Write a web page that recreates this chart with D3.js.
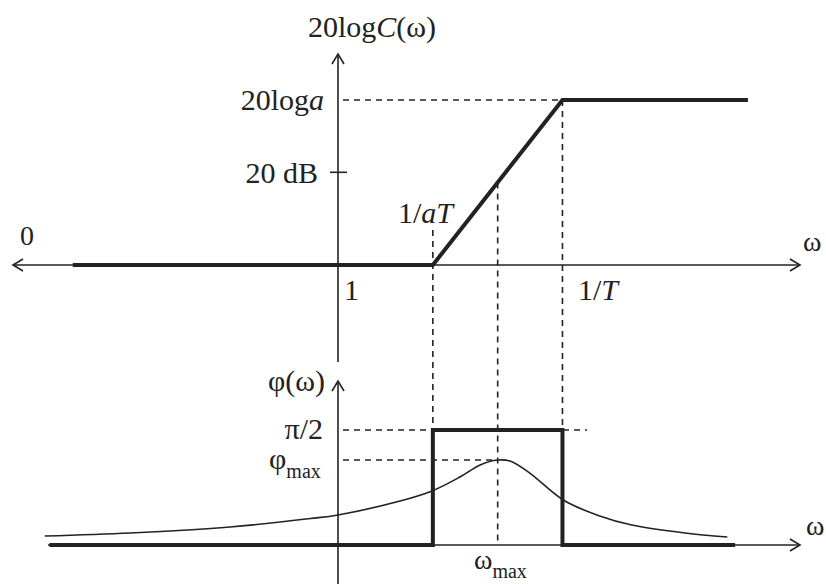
<!DOCTYPE html>
<html><head><meta charset="utf-8">
<script src="https://cdn.jsdelivr.net/npm/d3@7"></script>
<style>
html,body{margin:0;padding:0;background:#fff;}
svg text{font-family:"Liberation Serif","DejaVu Serif",serif;fill:#222;}
</style></head>
<body>
<svg id="chart" width="826" height="584"></svg>
<script>
// ---------- data ----------
const omegaA = 20;        // 1/aT
const omegaB = 1200;      // 1/T
const omegaMax = 155;     // ω_max
const gainDb = 35.6;      // 20 log a
const tickDb = 20;        // 20 dB tick
const phiHalfPi = 90;     // π/2 in degrees
const phiMax = 66.5;      // φ_max in degrees

const magOmega = [2.3e-4, 20, 1200, 4.2e5];
const magDb = [0, 0, 35.6, 35.6];

const stepOmega = [1.1e-4, 20, 20, 1200, 1200, 2.8e5];
const stepDeg = [0, 0, 90, 90, 0, 0];

const curveOmega = [9.5e-5, 1.4e-3, 0.033, 0.42, 1, 7.1, 19.5, 47, 89, 155, 229, 427, 1230, 3890, 10700, 57500, 219000];
const curveDeg   = [7.0, 9.4, 14.1, 20.7, 23.5, 34.4, 42.3, 53.2, 62.6, 66.5, 65.7, 56.3, 35.2, 22.7, 15.6, 9.4, 6.3];

// ---------- layout ----------
const svg = d3.select("#chart");
const x = d3.scaleLog().domain([1, 1e4]).range([338, 629.6]);
const yMag = d3.scaleLinear().domain([0, gainDb]).range([265, 100]);
const yPh = d3.scaleLinear().domain([0, 90]).range([545, 430]);

const ink = "#222";
const thick = 4, thin = 1.6;
const dash = "6,5";

function line(x1, y1, x2, y2, w, dashed) {
  svg.append("line").attr("x1", x1).attr("y1", y1).attr("x2", x2).attr("y2", y2)
    .attr("stroke", ink).attr("stroke-width", w)
    .attr("stroke-dasharray", dashed ? dash : null);
}
function chevron(tx, ty, dir) {
  // open arrow head; dir: 'r','l','u'
  const L = 10, H = 6;
  let p;
  if (dir === "r") p = [[tx - L, ty - H], [tx, ty], [tx - L, ty + H]];
  if (dir === "l") p = [[tx + L, ty - H], [tx, ty], [tx + L, ty + H]];
  if (dir === "u") p = [[tx - H, ty + L], [tx, ty], [tx + H, ty + L]];
  svg.append("path").attr("d", d3.line()(p)).attr("fill", "none")
    .attr("stroke", ink).attr("stroke-width", thin);
}

// ---------- dashed guides ----------
line(x(1) + 5, yMag(gainDb), x(omegaB), yMag(gainDb), thin, true);
line(x(omegaA), 230, x(omegaA), yPh(0), thin, true);
line(x(omegaMax), yMag(20 * Math.log10(omegaMax / omegaA)), x(omegaMax), yPh(0), thin, true);
line(x(omegaB), yMag(gainDb), x(omegaB), yPh(0), thin, true);
line(x(1) + 5, yPh(phiHalfPi), 587, yPh(phiHalfPi), thin, true);
line(x(1) + 5, yPh(phiMax), x(omegaMax), yPh(phiMax), thin, true);

// ---------- axes ----------
// magnitude
line(13, yMag(0), 800, yMag(0), thin);
chevron(800, yMag(0), "r");
chevron(13, yMag(0), "l");
line(x(1), 54, x(1), 362, thin);
chevron(x(1), 54, "u");
line(x(1) - 8, yMag(tickDb), x(1) + 9, yMag(tickDb), thin);
// phase
line(48, yPh(0), 800, yPh(0), thin);
chevron(800, yPh(0), "r");
line(x(1), 381, x(1), 584, thin);
chevron(x(1), 381, "u");

// ---------- series ----------
const magLine = d3.line().x((d, i) => x(magOmega[i])).y((d, i) => yMag(magDb[i]));
svg.append("path").attr("d", magLine(magOmega)).attr("fill", "none")
  .attr("stroke", ink).attr("stroke-width", thick).attr("stroke-linejoin", "miter");

const stepLine = d3.line().x((d, i) => x(stepOmega[i])).y((d, i) => yPh(stepDeg[i]));
svg.append("path").attr("d", stepLine(stepOmega)).attr("fill", "none")
  .attr("stroke", ink).attr("stroke-width", thick).attr("stroke-linejoin", "miter");

const phLine = d3.line().curve(d3.curveCatmullRom.alpha(0.5))
  .x((d, i) => x(curveOmega[i])).y((d, i) => yPh(curveDeg[i]));
svg.append("path").attr("d", phLine(curveOmega)).attr("fill", "none")
  .attr("stroke", ink).attr("stroke-width", thin);

// ---------- labels ----------
const fs = 30;
function label(tx, ty, anchor, parts, size) {
  const t = svg.append("text").attr("x", tx).attr("y", ty)
    .attr("text-anchor", anchor).attr("font-size", size || fs);
  parts.forEach(p => {
    const s = t.append("tspan").text(p.t);
    if (p.i) s.attr("font-style", "italic");
    if (p.sub) s.attr("font-size", 20).attr("dy", 9);
  });
  return t;
}
label(372, 37, "middle", [{t: "20log"}, {t: "C", i: 1}, {t: "(ω)"}]);
label(324, 110, "end", [{t: "20log"}, {t: "a", i: 1}]);
label(318, 183, "end", [{t: "20 dB"}]);
label(398, 223, "start", [{t: "1/"}, {t: "aT", i: 1}]);
label(344, 300, "start", [{t: "1"}]);
label(578, 300, "start", [{t: "1/"}, {t: "T", i: 1}]);
label(20, 245, "start", [{t: "0"}], 28);
label(803, 251, "start", [{t: "ω"}], 28);
label(325, 391, "end", [{t: "φ(ω)"}]);
label(323, 439, "end", [{t: "π/2"}]);
label(269, 469, "start", [{t: "φ"}, {t: "max", sub: 1}]);
label(806, 535, "start", [{t: "ω"}], 28);
label(474, 569, "start", [{t: "ω"}, {t: "max", sub: 1}], 28);
</script>
</body></html>
